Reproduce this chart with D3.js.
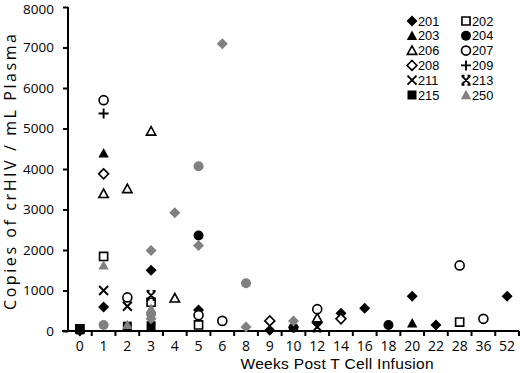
<!DOCTYPE html>
<html><head><meta charset="utf-8">
<script src="https://cdn.jsdelivr.net/npm/d3@7"></script>
<style>
html,body{margin:0;padding:0;background:#fff;}
svg{display:block;font-family:"Open Sans",sans-serif;}
</style></head>
<body><svg id="chart" width="520" height="373"></svg>
<script>
// ---- data ----
const weeks = ["0","1","2","3","4","5","6","8","9","10","12","14","16","18","20","22","28","36","52"];
const yTicks = [0,1000,2000,3000,4000,5000,6000,7000,8000];
const s201 = [[0,0],[1,590],[3,1500],[5,520],[9,20],[10,100],[12,200],[14,440],[16,560],[20,860],[22,150],[52,860]];
const s202 = [[0,50],[1,1840],[3,710],[5,150],[28,220]];
const s203 = [[1,4390],[20,190]];
const s204 = [[5,2360],[10,80],[18,150]];
const s206 = [[1,3390],[2,3510],[3,4930],[4,810],[12,320]];
const s207 = [[1,5700],[2,830],[5,390],[6,250],[12,540],[28,1620],[36,300]];
const s208 = [[1,3880],[9,250],[14,300]];
const s209 = [[1,5370]];
const s211 = [[1,1000],[2,610]];
const s213 = [[3,880],[12,100]];
const s215 = [[0,30],[2,120],[3,130]];
const s250 = [[1,1620],[2,150],[3,550]];
const sGrayDiamond = [[3,1990],[3,300],[4,2920],[5,2110],[6,7090],[8,100],[10,250]];
const sGrayCircle = [[1,150],[3,420],[5,4070],[8,1180]];

const series = [
  {name:"201", data:s201, shape:"diamond", style:"black", legend:true},
  {name:"202", data:s202, shape:"square", style:"open", legend:true},
  {name:"203", data:s203, shape:"triangle", style:"black", legend:true},
  {name:"204", data:s204, shape:"circle", style:"black", legend:true},
  {name:"206", data:s206, shape:"triangle", style:"open", legend:true},
  {name:"207", data:s207, shape:"circle", style:"open", legend:true},
  {name:"208", data:s208, shape:"diamond", style:"open", legend:true},
  {name:"209", data:s209, shape:"plus", style:"line", legend:true},
  {name:"211", data:s211, shape:"x", style:"line", legend:true},
  {name:"213", data:s213, shape:"xbar", style:"line", legend:true},
  {name:"215", data:s215, shape:"square", style:"black", legend:true},
  {name:"gd", data:sGrayDiamond, shape:"diamond", style:"gray", legend:false},
  {name:"gc", data:sGrayCircle, shape:"circle", style:"gray", legend:false},
  {name:"250", data:s250, shape:"triangle", style:"gray", legend:true}
];

// ---- layout ----
const svg = d3.select("#chart");
const x = d3.scaleBand().domain(weeks).range([68, 519]).padding(0);
const y = d3.scaleLinear().domain([0, 8000]).range([331, 7]);
const cx = w => x(String(w)) + x.bandwidth()/2;

function shapePath(shape){
  switch(shape){
    case "diamond": return "M0,-5.5L5.5,0L0,5.5L-5.5,0Z";
    case "square": return "M-4.5,-4.5H4.5V4.5H-4.5Z";
    case "triangle": return "M0,-5.2L5.2,4.2L-5.2,4.2Z";
    case "circle": return "M5,0A5,5 0 1,1 -5,0A5,5 0 1,1 5,0Z";
    case "plus": return "M-5,0H5M0,-5V5";
    case "x": return "M-4.5,-4.5L4.5,4.5M4.5,-4.5L-4.5,4.5";
    case "xbar": return "M-4,-4L4,4M4,-4L-4,4M-4.5,-4.5H-1.5M1.5,-4.5H4.5M-4.5,4.5H-1.5M1.5,4.5H4.5";
  }
}
function styleMark(sel, s){
  const open = s.style === "open", line = s.style === "line";
  const col = s.style === "gray" ? "#808080" : "#000";
  sel.attr("d", shapePath(s.shape))
    .attr("fill", (open || line) ? (open ? "#fff" : "none") : col)
    .attr("stroke", (open || line) ? "#000" : "none")
    .attr("stroke-width", line ? 1.9 : 1.8);
  if (open) sel.attr("transform", function(){ return d3.select(this).attr("transform") + " scale(0.9)"; });
  return sel;
}

// axes
const yAxis = d3.axisLeft(y).tickValues(yTicks).tickSize(5).tickPadding(9).tickFormat(d3.format("d"));
const gy = svg.append("g").attr("transform","translate(68,0)").call(yAxis);
gy.select(".domain").remove();
gy.selectAll(".tick line").attr("stroke","#000").attr("stroke-width",2);
gy.selectAll(".tick text").attr("font-size",13.5).attr("font-family","Open Sans").attr("fill","#000")
  .attr("dy", d => d === 8000 ? "0.5em" : "0.32em");
svg.append("line").attr("x1",68).attr("x2",68).attr("y1",y(8000)).attr("y2",y(0)+1).attr("stroke","#000").attr("stroke-width",2);

// x axis
const gx = svg.append("g").attr("transform","translate(0,331)");
gx.append("line").attr("x1",62).attr("x2",519).attr("y1",0).attr("y2",0).attr("stroke","#000").attr("stroke-width",2);
gx.selectAll("line.tk").data(d3.range(1, weeks.length+1)).enter().append("line").attr("class","tk")
  .attr("x1", i => 68 + i*x.step()).attr("x2", i => 68 + i*x.step())
  .attr("y1",0).attr("y2",5).attr("stroke","#000").attr("stroke-width",2);
gx.selectAll("text").data(weeks).enter().append("text")
  .attr("x", d => x(d) + x.bandwidth()/2).attr("y", 19.5)
  .attr("text-anchor","middle").attr("font-size",14).attr("fill","#000").text(d => d);

// axis titles
svg.append("text").attr("x",337).attr("y",369).attr("text-anchor","middle").attr("font-size",15.5)
  .attr("font-family","Liberation Sans").attr("textLength",193).attr("lengthAdjust","spacing")
  .text("Weeks Post T Cell Infusion");
svg.append("text").attr("transform","translate(16,172) rotate(-90)").attr("text-anchor","middle")
  .attr("font-size",16).attr("textLength",276).attr("lengthAdjust","spacing").text("Copies of crHIV / mL Plasma");

// marks
const gm = svg.append("g");
series.forEach(s => {
  const sel = gm.selectAll(null).data(s.data).enter().append("path")
    .attr("transform", d => `translate(${cx(d[0])},${y(d[1])})`);
  styleMark(sel, s);
});

// legend
const leg = series.filter(s => s.legend);
const lg = svg.append("g");
leg.forEach((s, i) => {
  const col = i % 2, row = Math.floor(i / 2);
  const lx = col === 0 ? 412 : 466, ly = 21 + row * 14.8;
  const p = lg.append("path").attr("transform", `translate(${lx},${ly})`);
  styleMark(p, s);
  lg.append("text").attr("x", lx + 6).attr("y", ly + 4.6).attr("font-size",12.8)
    .attr("font-family","Liberation Sans").attr("fill","#000").text(s.name);
});
</script></body></html>
